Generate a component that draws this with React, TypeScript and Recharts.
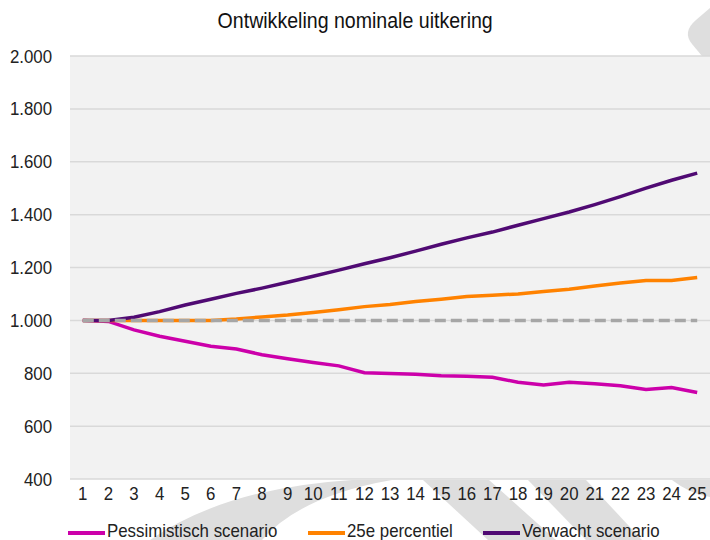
import React from 'react';
import { LineChart, Line, XAxis, YAxis, CartesianGrid, Legend } from 'recharts';

const categories = [1, 2, 3, 4, 5, 6, 7, 8, 9, 10, 11, 12, 13, 14, 15, 16, 17, 18, 19, 20, 21, 22, 23, 24, 25];
const pessimistisch = [1000, 996, 964, 940, 921, 902, 892, 870, 855, 841, 828, 802, 799, 796, 791, 789, 785, 766, 756, 766, 760, 753, 739, 746, 727];
const percentiel25 = [1000, 1000, 1000, 1000, 1000, 1000, 1005, 1013, 1020, 1030, 1040, 1052, 1060, 1071, 1080, 1090, 1095, 1100, 1109, 1118, 1130, 1141, 1151, 1151, 1162];
const verwacht = [1000, 1000, 1012, 1033, 1058, 1080, 1102, 1122, 1144, 1167, 1190, 1214, 1237, 1262, 1288, 1312, 1334, 1360, 1385, 1410, 1438, 1468, 1500, 1530, 1557];
const startniveau = [1000, 1000, 1000, 1000, 1000, 1000, 1000, 1000, 1000, 1000, 1000, 1000, 1000, 1000, 1000, 1000, 1000, 1000, 1000, 1000, 1000, 1000, 1000, 1000, 1000];
const yTicks = [400, 600, 800, 1000, 1200, 1400, 1600, 1800, 2000];

const title = 'Ontwikkeling nominale uitkering';
const seriesNames = ['Pessimistisch scenario', '25e percentiel', 'Verwacht scenario'];

const data = categories.map((c, i) => ({
  x: c,
  pess: pessimistisch[i],
  p25: percentiel25[i],
  verw: verwacht[i],
  start: startniveau[i],
}));

const FONT = '"Liberation Sans", Arial, sans-serif';
const SX = 0.91;

const fmt = (v: number) => String(v).replace(/\B(?=(\d{3})+(?!\d))/g, '.');

const YTick = (props: any) => {
  const { x, y, payload } = props;
  return (
    <g transform={`translate(${x},${y})`}>
      <text x={0} y={0} dy="0.355em" textAnchor="end" transform={`scale(${SX},1)`} fontSize={18.5} fill="#222" fontFamily={FONT}>
        {fmt(payload.value)}
      </text>
    </g>
  );
};

const XTick = (props: any) => {
  const { x, y, payload } = props;
  return (
    <g transform={`translate(${x},${y})`}>
      <text x={0} y={0} dy="0.72em" textAnchor="middle" transform={`scale(${SX},1)`} fontSize={18.5} fill="#222" fontFamily={FONT}>
        {payload.value}
      </text>
    </g>
  );
};

const legendLeft = [68, 308, 483];

const LegendContent = (props: any) => {
  const payload = props.payload || [];
  const items = seriesNames
    .map((n) => payload.find((p: any) => p.value === n))
    .filter(Boolean);
  return (
    <div style={{ position: 'relative', width: 710, height: 31 }}>
      {items.map((it: any, i: number) => (
        <React.Fragment key={it.value}>
          <div style={{ position: 'absolute', left: legendLeft[i], top: 22, width: 37, height: 3.5, background: it.color }} />
          <span
            style={{
              position: 'absolute',
              left: legendLeft[i] + 39,
              top: 12,
              fontFamily: FONT,
              fontSize: 18.5,
              lineHeight: '20px',
              color: '#222',
              whiteSpace: 'nowrap',
              transform: `scaleX(${SX})`,
              transformOrigin: 'left',
            }}
          >
            {it.value}
          </span>
        </React.Fragment>
      ))}
    </div>
  );
};

const Watermark = () => (
  <svg width={710} height={540} style={{ position: 'absolute', left: 0, top: 0 }}>
    <g fill="#dedede">
      <path d="M 150 540 Q 225 488 352 480 L 392 480 Q 300 496 262 540 Z" />
      <path d="M 423 480 L 489 480 L 556 540 L 488 540 Z" />
      <path d="M 528 480 L 586 480 L 642 540 L 586 540 Z" />
      <path d="M 672 480 Q 690 494 710 497 L 710 480 Z" />
      <path d="M 710 8 L 696 20 Q 682 32 692 44 L 702 56 L 710 56 Z" />
    </g>
  </svg>
);

export default function App() {
  return (
    <div style={{ position: 'absolute', left: 0, top: 0, width: 710, height: 540, background: '#fff', overflow: 'hidden' }}>
      <Watermark />
      <div
        style={{
          position: 'absolute',
          left: 0,
          top: 9,
          width: 710,
          textAlign: 'center',
          fontFamily: FONT,
          fontSize: 21.5,
          lineHeight: '24px',
          color: '#111',
        }}
      >
        <span style={{ display: 'inline-block', transform: `scaleX(${SX})` }}>{title}</span>
      </div>
      <div style={{ position: 'absolute', left: 0, top: 0 }}>
        <LineChart width={710} height={540} data={data} margin={{ top: 56, right: 0, left: 0, bottom: 0 }}>
          <CartesianGrid vertical={false} stroke="#d9d9d9" strokeWidth={1.5} fill="#f2f2f2" />
          <XAxis
            dataKey="x"
            type="number"
            domain={[0.5, 25.5]}
            ticks={categories}
            interval={0}
            axisLine={false}
            tickLine={false}
            tickSize={0}
            tickMargin={8}
            height={30}
            tick={<XTick />}
          />
          <YAxis
            domain={[400, 2000]}
            ticks={yTicks}
            interval={0}
            axisLine={false}
            tickLine={false}
            tickSize={0}
            tickMargin={18}
            width={70}
            tick={<YTick />}
          />
          <Legend verticalAlign="bottom" align="left" content={<LegendContent />} />
          <Line name={seriesNames[0]} dataKey="pess" stroke="#CC00AA" strokeWidth={3.5} dot={false} isAnimationActive={false} />
          <Line name={seriesNames[1]} dataKey="p25" stroke="#FF8200" strokeWidth={3.5} dot={false} isAnimationActive={false} />
          <Line name={seriesNames[2]} dataKey="verw" stroke="#500A73" strokeWidth={3.5} dot={false} isAnimationActive={false} />
          <Line name="Startniveau" dataKey="start" stroke="#a6a6a6" strokeWidth={3.5} strokeDasharray="11 5" dot={false} isAnimationActive={false} legendType="none" />
        </LineChart>
      </div>
    </div>
  );
}
